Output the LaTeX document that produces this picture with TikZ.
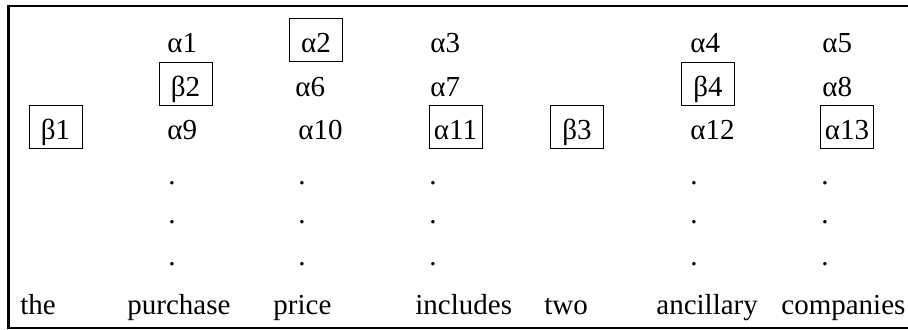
\documentclass[tikz,border=0pt]{standalone}
\usepackage{fontspec}
\setmainfont{Liberation Serif}

\begin{document}
\begin{tikzpicture}[x=0.5pt,y=-0.5pt,
  every node/.style={font=\fontsize{14.5}{17}\selectfont,inner sep=0pt},
  word/.style={anchor=base west},
  cell/.style={anchor=base west},
  boxed/.style={draw,line width=0.5pt,anchor=base,minimum width=26.5pt,
    text height=17.25pt,text depth=4.25pt},
  dotmark/.style={anchor=base}]
  \useasboundingbox (0,0) rectangle (908,330);
  \draw[line width=1.25pt] (908,6)--(8.5,6)--(8.5,328)--(908,328);
  % words along the bottom
  \node[word] (the) at (20,315) {the};
  \node[word] (purchase) at (127,315) {purchase};
  \node[word] (price) at (273,315) {price};
  \node[word] (includes) at (415,315) {includes};
  \node[word] (two) at (544,315) {two};
  \node[word] (ancillary) at (656,315) {ancillary};
  \node[word] (companies) at (781,315) {companies};
  % first row
  \node[cell] (a1) at (167,53) {α1};
  \node[boxed] (a2) at (316,53) {α2};
  \node[cell] (a3) at (430,53) {α3};
  \node[cell] (a4) at (690,53) {α4};
  \node[cell] (a5) at (822,53) {α5};
  % second row
  \node[boxed] (b2) at (185.5,97) {β2};
  \node[cell] (a6) at (295,97) {α6};
  \node[cell] (a7) at (430,97) {α7};
  \node[boxed] (b4) at (708,97) {β4};
  \node[cell] (a8) at (822,97) {α8};
  % third row
  \node[boxed] (b1) at (55.5,140) {β1};
  \node[cell] (a9) at (167,140) {α9};
  \node[cell] (a10) at (298,140) {α10};
  \node[boxed] (a11) at (455.5,140) {α11};
  \node[boxed] (b3) at (577,140) {β3};
  \node[cell] (a12) at (690,140) {α12};
  \node[boxed] (a13) at (847,140) {α13};
  % dots
  \foreach \x/\c in {172/p,302/q,433/r,694/s,825/t}
    \foreach \y/\r in {184.5/1,224/2,265.5/3}
      \node[dotmark] (d\c\r) at (\x,\y) {.};
\end{tikzpicture}
\end{document}
